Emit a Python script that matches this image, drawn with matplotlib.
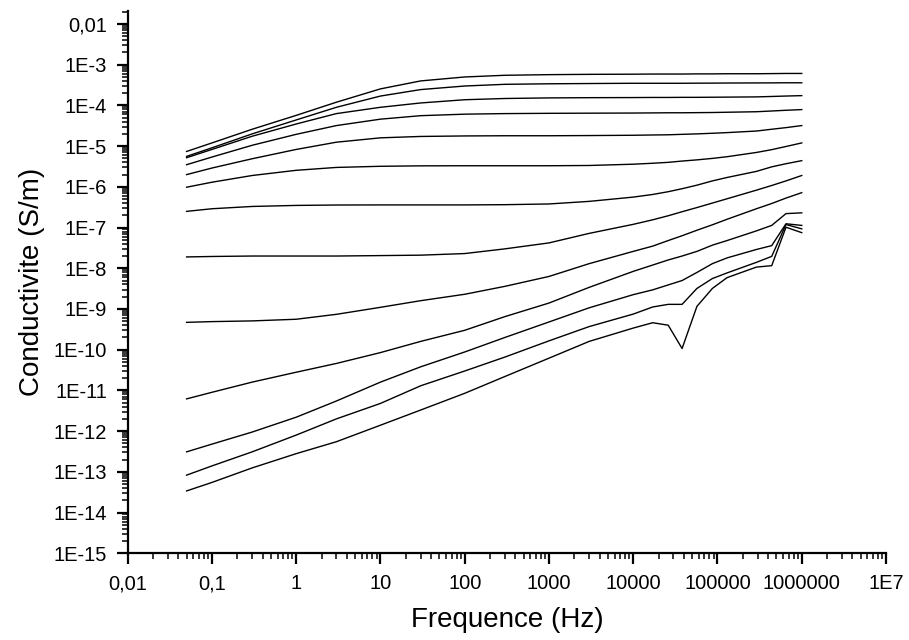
import matplotlib
matplotlib.use("Agg")
import matplotlib.pyplot as plt
from matplotlib.ticker import FixedLocator, LogLocator, NullFormatter, FixedFormatter

plt.rcParams['font.family'] = ['Liberation Sans', 'DejaVu Sans']

# Frequencies (Hz) shared by all curves
freq = [0.05, 0.1, 0.3, 1, 3, 10, 30, 100, 300, 1e3, 3e3, 1e4, 1.7e4, 2.6e4,
        3.8e4, 5.7e4, 8.7e4, 1.3e5, 2.9e5, 4.4e5, 6.5e5, 1e6]

# Conductivity curves (S/m), top to bottom
s01 = [7.4e-6, 1.2e-5, 2.6e-5, 5.7e-5, 1.2e-4, 2.55e-4, 4.0e-4, 5.0e-4, 5.5e-4, 5.7e-4, 5.8e-4,
       5.85e-4, 5.9e-4, 5.9e-4, 5.9e-4, 5.95e-4, 5.95e-4, 6.0e-4, 6.0e-4, 6.05e-4, 6.1e-4, 6.1e-4]
s02 = [5.6e-6, 9.1e-6, 2.0e-5, 4.4e-5, 9.0e-5, 1.7e-4, 2.45e-4, 3.0e-4, 3.3e-4, 3.4e-4, 3.45e-4,
       3.5e-4, 3.5e-4, 3.5e-4, 3.5e-4, 3.52e-4, 3.53e-4, 3.55e-4, 3.57e-4, 3.58e-4, 3.6e-4, 3.6e-4]
s03 = [5.2e-6, 8.3e-6, 1.75e-5, 3.5e-5, 6.3e-5, 9.0e-5, 1.15e-4, 1.38e-4, 1.48e-4, 1.53e-4, 1.55e-4,
       1.56e-4, 1.57e-4, 1.57e-4, 1.58e-4, 1.58e-4, 1.59e-4, 1.6e-4, 1.62e-4, 1.66e-4, 1.7e-4, 1.74e-4]
s04 = [3.5e-6, 5.4e-6, 1.05e-5, 1.95e-5, 3.2e-5, 4.6e-5, 5.6e-5, 6.1e-5, 6.3e-5, 6.4e-5, 6.45e-5,
       6.5e-5, 6.55e-5, 6.6e-5, 6.6e-5, 6.65e-5, 6.7e-5, 6.8e-5, 7.0e-5, 7.3e-5, 7.6e-5, 7.9e-5]
s05 = [2.0e-6, 2.9e-6, 4.9e-6, 8.3e-6, 1.25e-5, 1.6e-5, 1.73e-5, 1.78e-5, 1.8e-5, 1.8e-5, 1.82e-5,
       1.85e-5, 1.88e-5, 1.9e-5, 1.95e-5, 2.0e-5, 2.07e-5, 2.15e-5, 2.35e-5, 2.6e-5, 2.85e-5, 3.2e-5]
s06 = [9.8e-7, 1.3e-6, 1.9e-6, 2.55e-6, 3.0e-6, 3.2e-6, 3.28e-6, 3.3e-6, 3.3e-6, 3.3e-6, 3.35e-6,
       3.6e-6, 3.8e-6, 4.0e-6, 4.3e-6, 4.6e-6, 5.0e-6, 5.5e-6, 7.0e-6, 8.2e-6, 9.8e-6, 1.2e-5]
s07 = [2.5e-7, 2.9e-7, 3.3e-7, 3.5e-7, 3.58e-7, 3.6e-7, 3.6e-7, 3.6e-7, 3.65e-7, 3.8e-7, 4.4e-7,
       5.6e-7, 6.5e-7, 7.6e-7, 9.0e-7, 1.1e-6, 1.4e-6, 1.7e-6, 2.4e-6, 3.1e-6, 3.7e-6, 4.4e-6]
s08 = [1.9e-8, 1.95e-8, 2.0e-8, 2.0e-8, 2.0e-8, 2.05e-8, 2.1e-8, 2.3e-8, 3.0e-8, 4.2e-8, 7.2e-8,
       1.2e-7, 1.55e-7, 1.95e-7, 2.45e-7, 3.1e-7, 4.0e-7, 5.1e-7, 8.3e-7, 1.08e-6, 1.4e-6, 1.9e-6]
s09 = [4.7e-10, 4.9e-10, 5.1e-10, 5.6e-10, 7.4e-10, 1.1e-9, 1.6e-9, 2.3e-9, 3.6e-9, 6.3e-9, 1.3e-8,
       2.6e-8, 3.5e-8, 4.8e-8, 6.3e-8, 8.6e-8, 1.17e-7, 1.6e-7, 2.9e-7, 3.9e-7, 5.3e-7, 7.2e-7]
s10 = [6.2e-12, 9.0e-12, 1.6e-11, 2.8e-11, 4.6e-11, 8.5e-11, 1.6e-10, 3.0e-10, 6.5e-10, 1.4e-9, 3.4e-9,
       8.4e-9, 1.2e-8, 1.6e-8, 2.0e-8, 2.6e-8, 3.7e-8, 4.8e-8, 8.3e-8, 1.13e-7, 2.2e-7, 2.3e-7]
s11 = [3.1e-13, 4.8e-13, 9.5e-13, 2.2e-12, 5.5e-12, 1.6e-11, 3.8e-11, 8.8e-11, 2.0e-10, 4.8e-10, 1.07e-9,
       2.25e-9, 2.95e-9, 3.9e-9, 5.0e-9, 7.9e-9, 1.3e-8, 1.8e-8, 2.9e-8, 3.6e-8, 1.24e-7, 1.13e-7]
s12 = [8.3e-14, 1.4e-13, 3.1e-13, 8.0e-13, 2.0e-12, 4.8e-12, 1.3e-11, 3.0e-11, 6.6e-11, 1.65e-10, 3.7e-10,
       7.5e-10, 1.12e-9, 1.3e-9, 1.3e-9, 3.2e-9, 5.6e-9, 7.7e-9, 1.4e-8, 1.96e-8, 1.19e-7, 9.3e-8]
s13 = [3.4e-14, 5.5e-14, 1.25e-13, 2.8e-13, 5.5e-13, 1.4e-12, 3.3e-12, 8.5e-12, 2.2e-11, 6.2e-11, 1.6e-10,
       3.4e-10, 4.6e-10, 4.0e-10, 1.07e-10, 1.16e-9, 3.2e-9, 5.9e-9, 1.07e-8, 1.16e-8, 1.02e-7, 7.5e-8]

series = [s01, s02, s03, s04, s05, s06, s07, s08, s09, s10, s11, s12, s13]

x_ticks = [0.01, 0.1, 1, 10, 100, 1000, 1e4, 1e5, 1e6, 1e7]
x_labels = ["0,01", "0,1", "1", "10", "100", "1000", "10000", "100000", "1000000", "1E7"]
y_ticks = [1e-15, 1e-14, 1e-13, 1e-12, 1e-11, 1e-10, 1e-9, 1e-8, 1e-7, 1e-6, 1e-5, 1e-4, 1e-3, 1e-2]
y_labels = ["1E-15", "1E-14", "1E-13", "1E-12", "1E-11", "1E-10", "1E-9", "1E-8", "1E-7",
            "1E-6", "1E-5", "1E-4", "1E-3", "0,01"]

fig = plt.figure(figsize=(9.09, 6.40), dpi=100)
ax = fig.add_axes([0.1405, 0.1355, 0.9747 - 0.1405, 0.983 - 0.1355])

for s in series:
    ax.plot(freq, s, color='black', lw=1.0)

ax.set_xscale('log')
ax.set_yscale('log')
ax.set_xlim(0.01, 1e7)
ax.set_ylim(1e-15, 0.021)

ax.xaxis.set_major_locator(FixedLocator(x_ticks))
ax.xaxis.set_major_formatter(FixedFormatter(x_labels))
ax.yaxis.set_major_locator(FixedLocator(y_ticks))
ax.yaxis.set_major_formatter(FixedFormatter(y_labels))
ax.xaxis.set_minor_locator(LogLocator(base=10, subs=[2, 3, 4, 5, 6, 7, 8, 9], numticks=50))
ax.yaxis.set_minor_locator(LogLocator(base=10, subs=[2, 3, 4, 5, 6, 7, 8, 9], numticks=50))
ax.xaxis.set_minor_formatter(NullFormatter())
ax.yaxis.set_minor_formatter(NullFormatter())

for side in ['top', 'right']:
    ax.spines[side].set_visible(False)
for side in ['left', 'bottom']:
    ax.spines[side].set_linewidth(1.6)

ax.tick_params(which='major', direction='out', length=8, width=1.6, labelsize=14.5, pad=7)
ax.tick_params(which='minor', direction='out', length=4.5, width=1.1)

ax.set_xlabel("Frequence (Hz)", fontsize=20, labelpad=10)
ax.set_ylabel("Conductivite (S/m)", fontsize=20, labelpad=6)

fig.savefig("out.png", dpi=100)
